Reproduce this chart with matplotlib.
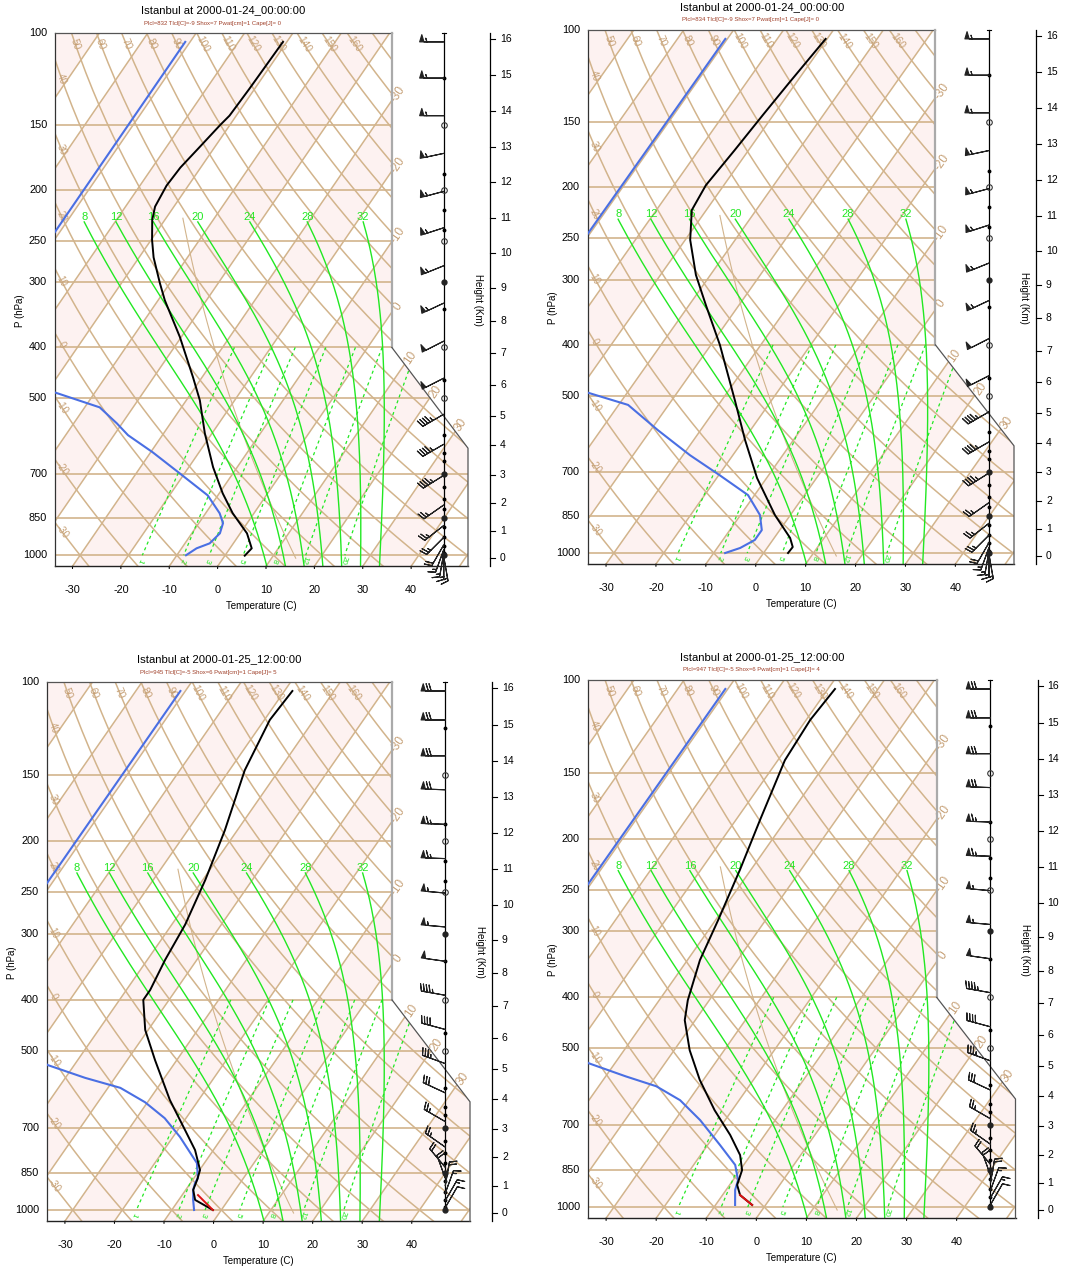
import numpy as np
import matplotlib.pyplot as plt
from matplotlib.patches import Polygon
from matplotlib.transforms import offset_copy

plt.rcParams['font.family'] = ['Liberation Sans', 'DejaVu Sans']

TAN = '#D2B48C'
TANTXT = '#C6A076'
PINK = '#FDF2F1'
GREEN = '#22E822'
BLUE = '#4A6FE3'
BROWN = '#A0402A'

# ---------------- data ----------------
titles = ["Istanbul at 2000-01-24_00:00:00", "Istanbul at 2000-01-24_00:00:00",
          "Istanbul at 2000-01-25_12:00:00", "Istanbul at 2000-01-25_12:00:00"]
subtitles = ["Plcl=832 Tlcl[C]=-9 Shox=7 Pwat[cm]=1 Cape[J]= 0",
             "Plcl=834 Tlcl[C]=-9 Shox=7 Pwat[cm]=1 Cape[J]= 0",
             "Plcl=945 Tlcl[C]=-5 Shox=6 Pwat[cm]=1 Cape[J]= 5",
             "Plcl=947 Tlcl[C]=-5 Shox=6 Pwat[cm]=1 Cape[J]= 4"]

# temperature (hPa, C)
t1_p = [104, 128, 144, 150, 165, 181, 196, 215, 228, 249, 269, 301, 325, 382, 456, 505, 584, 678, 761, 831, 908, 970, 1002]
t1_t = [-60.8, -61.1, -61.4, -62.0, -63.1, -64.2, -64.5, -63.9, -62.6, -59.8, -57.0, -52.1, -48.6, -40.3, -31.9, -27.2, -21.5, -15.0, -9.3, -4.4, 1.4, 4.5, 4.1]
t2_p = [104, 126, 145, 170, 198, 221, 252, 294, 336, 400, 510, 608, 719, 846, 936, 974, 1000]
t2_t = [-60.3, -61.4, -62.1, -62.8, -63.6, -62.9, -59.0, -52.9, -46.6, -38.2, -27.4, -19.7, -11.9, -3.1, 3.2, 5.0, 4.9]
t3_p = [104, 118, 147, 191, 237, 288, 336, 383, 400, 456, 520, 619, 706, 770, 840, 877, 916, 957, 1000]
t3_t = [-58.4, -58.9, -56.9, -52.5, -49.5, -47.3, -46.4, -45.2, -45.2, -40.6, -34.4, -25.8, -18.5, -13.7, -9.9, -9.1, -8.5, -6.7, -1.7]
t4_p = [104, 119, 142, 184, 229, 285, 340, 405, 442, 504, 574, 655, 730, 797, 851, 908, 949, 991]
t4_t = [-58.6, -59.2, -58.6, -55.2, -52.2, -49.5, -47.5, -44.3, -42.1, -36.9, -30.7, -23.5, -16.9, -12.1, -9.6, -8.5, -6.5, -2.7]

# dewpoint (hPa, C)
d1_p = [104, 244, 330, 420, 483, 521, 559, 589, 635, 697, 768, 831, 868, 908, 949, 970, 1000]
d1_t = [-81, -81, -80, -70, -60, -46.9, -41.1, -37.1, -29.6, -21.0, -12.1, -7.1, -5.0, -4.2, -4.9, -6.9, -8.1]
d2_p = [104, 244, 330, 420, 492, 521, 582, 650, 710, 775, 846, 904, 944, 978, 1000]
d2_t = [-80.4, -80.4, -80, -70, -58.5, -48.1, -38.6, -28.6, -19.8, -11.3, -6.1, -3.6, -3.6, -5.4, -7.7]
d3_p = [104, 300, 420, 531, 562, 587, 625, 670, 727, 815, 870, 888, 916, 957, 1000]
d3_t = [-81, -81, -72, -55.5, -46.0, -37.5, -30.5, -24.3, -18.6, -11.5, -9.2, -9.1, -8.5, -7.1, -5.5]
d4_p = [104, 300, 420, 533, 565, 590, 627, 684, 763, 832, 889, 928, 991]
d4_t = [-80.5, -80.5, -72, -55.4, -46.0, -38.5, -31.8, -25.0, -17.5, -11.7, -9.0, -8.2, -6.1]

# lifted parcel near the ground (bottom panels)
r3_p = [937, 1000]
r3_t = [-6.8, -1.7]
r4_p = [949, 991]
r4_t = [-6.5, -2.7]

# winds (hPa, direction deg, speed kt)
w1_p = [104, 122, 144, 170, 201, 236, 279, 329, 389, 458, 537, 613, 703, 801, 877, 924, 955, 975, 990, 1000, 1008]
w1_d = [270, 270, 270, 258, 255, 252, 248, 245, 243, 243, 240, 240, 238, 235, 232, 225, 210, 200, 190, 180, 170]
w1_s = [55, 55, 55, 55, 55, 55, 55, 55, 50, 50, 45, 45, 45, 25, 25, 25, 20, 15, 15, 15, 15]
w2_p = [104, 122, 144, 170, 201, 236, 279, 329, 389, 458, 537, 613, 703, 801, 877, 924, 955, 975, 990, 1000, 1008]
w2_d = [270, 270, 270, 258, 255, 252, 248, 245, 243, 243, 240, 240, 238, 235, 232, 225, 210, 200, 190, 180, 170]
w2_s = [55, 55, 55, 55, 55, 55, 55, 55, 50, 50, 45, 45, 45, 25, 25, 25, 20, 15, 15, 15, 15]
w3_p = [104, 118, 138, 160, 186, 216, 251, 291, 338, 392, 455, 528, 600, 680, 760, 830, 870, 900, 930, 960, 990]
w3_d = [270, 270, 270, 272, 272, 272, 275, 275, 278, 280, 285, 290, 295, 300, 305, 320, 340, 10, 20, 30, 30]
w3_s = [70, 70, 70, 70, 65, 65, 55, 55, 50, 45, 40, 35, 30, 25, 25, 20, 20, 20, 15, 15, 10]
w4_p = [104, 118, 138, 160, 186, 216, 251, 291, 338, 392, 455, 528, 600, 680, 760, 830, 870, 900, 930, 960, 990]
w4_d = [270, 270, 270, 272, 272, 272, 275, 275, 278, 280, 285, 290, 295, 300, 305, 320, 340, 10, 20, 30, 30]
w4_s = [70, 70, 70, 70, 65, 65, 55, 55, 50, 45, 40, 35, 30, 25, 25, 20, 20, 20, 15, 15, 10]

# small dots on the wind column
dots_p = [122, 186, 218, 238, 338, 462, 588, 637, 660, 740, 780, 815, 883, 924, 958, 989]
circ_p = [150, 200, 250, 400, 500]
bold_p = [300, 700, 850, 1000]

# background values
isobars = [1000, 850, 700, 500, 400, 300, 250, 200, 150]
isotherms = list(range(-110, 60, 10))
dry_theta = list(range(-30, 180, 10))
moist_tw = [8, 12, 16, 20, 24, 28, 32]
mix_w = [1, 2, 3, 5, 8, 12, 20]
temp_ticks = [-30, -20, -10, 0, 10, 20, 30, 40]
km_ticks = list(range(0, 17))

# panel rectangles in pixels: left, right, top, bottom
rects = [(55, 468, 33, 566.3), (588, 1014, 30, 564.1),
         (47, 470, 682, 1221.2), (588, 1015.5, 680, 1218.2)]

W, H = 1071, 1272


# ---------------- skew-T coordinates (NCL style) ----------------
def sy(p):
    return 132.182 - 44.061 * np.log10(np.asarray(p, float))


def sx(t, p):
    return 0.54 * np.asarray(t, float) + 0.90692 * sy(p)


YB, YT = float(sy(1050)), float(sy(100))
XL, XR = -19.0, 27.1


def x_right(y):
    return np.where(y >= 17.53, 18.6, np.where(y >= 9.03, 36.13 - y, 27.1))


def pseudo(tw, p):
    Rd, cp, Lv, eps = 287.04, 1005.7, 2.501e6, 0.622

    def f(T, pp):
        tc = T - 273.15
        es = 6.112 * np.exp(17.67 * tc / (tc + 243.5))
        rs = eps * es / (pp - es)
        return (Rd * T + Lv * rs) / (pp * (cp + Lv * Lv * rs * eps / (Rd * T * T)))
    T = np.empty(len(p))
    T[0] = tw + 273.15
    for i in range(1, len(p)):
        h = p[i] - p[i - 1]
        k1 = f(T[i - 1], p[i - 1])
        k2 = f(T[i - 1] + h / 2 * k1, p[i - 1] + h / 2)
        k3 = f(T[i - 1] + h / 2 * k2, p[i - 1] + h / 2)
        k4 = f(T[i - 1] + h * k3, p[i])
        T[i] = T[i - 1] + h / 6 * (k1 + 2 * k2 + 2 * k3 + k4)
    return T - 273.15


def std_p(z):
    if z <= 11:
        return 1013.25 * (1 - 0.0065 * z * 1000 / 288.15) ** 5.25588
    return 226.32 * np.exp(-(z - 11) * 1000 / 6341.62)


fig = plt.figure(figsize=(W / 100, H / 100), dpi=100)


def txt(ax, x, y, s, dx=0, dy=0, **kw):
    tr = offset_copy(ax.transData, fig=fig, x=dx, y=dy, units='dots')
    ax.text(x, y, s, transform=tr, clip_on=False, **kw)


def angle(ax, x0, y0, x1, y1):
    a = ax.transData.transform([(x0, y0), (x1, y1)])
    return np.degrees(np.arctan2(a[1, 1] - a[0, 1], a[1, 0] - a[0, 0]))


def draw_panel(ax, rect, title, sub, tp, tt, dp, dt, wp, wd, ws, rp=None, rt=None):
    l, r, top, bot = rect
    ppx = (r - l) / (XR - XL)
    ax.set_xlim(XL, XR)
    ax.set_ylim(YB, YT)
    ax.axis('off')

    verts = [(XL, YB), (XR, YB), (XR, 9.03), (18.6, 17.53), (18.6, YT), (XL, YT)]
    clip = Polygon(verts, closed=True, transform=ax.transData, fc='none', ec='none')
    ax.add_patch(clip)

    def clipped(art):
        art.set_clip_path(clip)

    # alternating isotherm bands
    for t in range(-110, 50, 20):
        band = Polygon([(sx(t, 1050), YB), (sx(t + 10, 1050), YB),
                        (sx(t + 10, 100), YT), (sx(t, 100), YT)],
                       closed=True, fc=PINK, ec='none', zorder=1)
        ax.add_patch(band)
        clipped(band)

    # isobars
    for p in isobars:
        y = float(sy(p))
        ax.plot([XL, float(x_right(y))], [y, y], color=TAN, lw=1.2, zorder=2)
    # isotherms
    for t in isotherms:
        ln, = ax.plot([sx(t, 1050), sx(t, 100)], [YB, YT], color=TAN, lw=1.1, zorder=2)
        clipped(ln)
    # dry adiabats
    pp = np.linspace(100, 1050, 200)
    for th in dry_theta:
        tk = (th + 273.15) * (pp / 1000.0) ** 0.2857 - 273.15
        ln, = ax.plot(sx(tk, pp), sy(pp), color=TAN, lw=1.1, zorder=2)
        clipped(ln)
        xs = sx(tk, pp)
        if 50 <= th <= 160:
            yl = YT - 11 / 11.85
            pl = 10 ** ((132.182 - yl) / 44.061)
            tl = (th + 273.15) * (pl / 1000.0) ** 0.2857 - 273.15
            xl = float(sx(tl, pl))
            p2 = pl * 1.05
            t2 = (th + 273.15) * (p2 / 1000.0) ** 0.2857 - 273.15
            rot = angle(ax, xl, yl, float(sx(t2, p2)), float(sy(p2)))
            txt(ax, xl, yl, str(th), color=TANTXT, fontsize=7.3, rotation=rot,
                ha='center', va='center', zorder=3)
        elif th <= 40:
            xl = XL + 0.75
            pl = float(np.interp(xl, xs, pp))
            p2 = pl * 1.05
            t2 = (th + 273.15) * (p2 / 1000.0) ** 0.2857 - 273.15
            rot = angle(ax, xl, float(sy(pl)), float(sx(t2, p2)), float(sy(p2)))
            txt(ax, xl, float(sy(pl)), str(th), color=TANTXT, fontsize=7.0, rotation=rot,
                ha='center', va='center', zorder=3)

    # isotherm labels on the right edge
    yy = np.linspace(YB, YT, 600)
    for t in [-30, -20, -10, 0, 10, 20, 30]:
        f = 0.54 * t + 0.90692 * yy - x_right(yy)
        yl = float(np.interp(0.0, f, yy))
        xl = float(x_right(np.array(yl)))
        rot = angle(ax, sx(t, 1050), YB, sx(t, 100), YT)
        txt(ax, xl, yl, str(t), dx=6, dy=6, color=TANTXT, fontsize=8.5, rotation=rot,
            ha='center', va='center', zorder=3)

    # standard atmosphere
    ps = np.linspace(226.3, 1013.25, 60)
    ts = 288.15 * (ps / 1013.25) ** 0.190263 - 273.15
    ln, = ax.plot(sx(ts, ps), sy(ps), color=TAN, lw=0.8, zorder=2)
    clipped(ln)

    # moist adiabats
    pu = np.linspace(1000, 230, 160)
    pdn = np.linspace(1000, 1050, 12)
    for tw in moist_tw:
        tu = pseudo(tw, pu)
        td = pseudo(tw, pdn)
        p_all = np.concatenate([pdn[::-1], pu[1:]])
        t_all = np.concatenate([td[::-1], tu[1:]])
        ln, = ax.plot(sx(t_all, p_all), sy(p_all), color=GREEN, lw=1.0, zorder=3)
        clipped(ln)
        txt(ax, float(sx(tu[-1], 230)), float(sy(230)), str(tw), dy=5, color=GREEN,
            fontsize=8, ha='center', va='center', zorder=3)

    # mixing ratio lines
    pm = np.linspace(400, 1000, 40)
    for w in mix_w:
        e = w * pm / (622.0 + w)
        a = np.log(e / 6.112)
        tdm = 243.5 * a / (17.67 - a)
        ln, = ax.plot(sx(tdm, pm), sy(pm), color=GREEN, lw=0.9, ls=(0, (2.5, 2.5)), zorder=3)
        clipped(ln)
        pl = 1022.0
        e = w * pl / (622.0 + w)
        a = np.log(e / 6.112)
        tl = 243.5 * a / (17.67 - a)
        rot = angle(ax, float(sx(tdm[0], pm[0])), float(sy(pm[0])),
                    float(sx(tdm[-1], pm[-1])), float(sy(pm[-1])))
        txt(ax, float(sx(tl, pl)), float(sy(pl)), str(w), color=GREEN, fontsize=5.8,
            rotation=rot, ha='center', va='center', zorder=3)

    # outline
    ax.plot([XL, XR], [YB, YB], color='#222222', lw=1.0, zorder=4, clip_on=False)
    ax.plot([XL, XL], [YB, YT], color='#333333', lw=0.9, zorder=4, clip_on=False)
    ax.plot([XL, 18.6], [YT, YT], color='#555555', lw=0.9, zorder=4, clip_on=False)
    ax.plot([18.6, 18.6], [YT, 17.53], color='#AAAAAA', lw=1.6, zorder=4, clip_on=False)
    ax.plot([18.6, XR, XR], [17.53, 9.03, YB], color='#555555', lw=0.9, zorder=4, clip_on=False)

    # axes labels
    for p in [100, 150, 200, 250, 300, 400, 500, 700, 850, 1000]:
        txt(ax, XL, float(sy(p)), str(p), dx=-8, color='black', fontsize=7.8,
            ha='right', va='center')
    txt(ax, XL, float(sy(340)), 'P (hPa)', dx=-35, color='black', fontsize=7,
        rotation=90, ha='center', va='center')
    for t in temp_ticks:
        x = float(sx(t, 1050))
        ax.annotate('', xy=(x, YB), xytext=(0, -5), textcoords='offset pixels',
                    arrowprops=dict(arrowstyle='-', lw=0.8, color='black'), annotation_clip=False)
        txt(ax, x, YB, str(t), dy=-24, color='black', fontsize=7.8, ha='center', va='center')
    txt(ax, (XL + XR) / 2, YB, 'Temperature (C)', dy=-40, color='black', fontsize=7,
        ha='center', va='center')
    txt(ax, (XL + 18.6) / 2, YT, title, dy=23, color='black', fontsize=8.1,
        ha='center', va='center')
    txt(ax, (XL + 18.6) / 2 - 1.2, YT, sub, dy=10, color=BROWN, fontsize=4.3,
        ha='center', va='center')

    # height axis
    xh = XR + 22 / ppx
    ax.plot([xh, xh], [YB, YT], color='black', lw=0.9, clip_on=False)
    for z in km_ticks:
        y = float(sy(std_p(z)))
        ax.plot([xh, xh + 5 / ppx], [y, y], color='black', lw=0.8, clip_on=False)
        txt(ax, xh, y, str(z), dx=10, color='black', fontsize=7.5, ha='left', va='center')
    txt(ax, xh, float(sy(325)), 'Height (Km)', dx=-12, color='black', fontsize=7,
        rotation=-90, ha='center', va='center')

    # profiles
    ax.plot(sx(dt, dp), sy(dp), color=BLUE, lw=1.5, zorder=5, clip_path=clip)
    ax.plot(sx(tt, tp), sy(tp), color='black', lw=1.4, zorder=5)
    if rp is not None:
        ax.plot(sx(rt, rp), sy(rp), color='#DD1111', lw=1.4, zorder=6)

    # wind column and barbs
    xw = 24.4
    ax.plot([xw, xw], [float(sy(1000)), YT], color='black', lw=0.9, zorder=6, clip_on=False)
    ax.plot([xw - 2 / ppx, xw + 2 / ppx], [YT, YT], color='black', lw=0.8, zorder=6, clip_on=False)
    ax.plot(np.full(len(dots_p), xw), sy(dots_p), 'o', ms=1.8, color='black', zorder=6, clip_on=False)
    ax.plot(np.full(len(circ_p), xw), sy(circ_p), 'o', ms=4, mfc='none', mec='#333333',
            mew=0.8, zorder=6, clip_on=False)
    ax.plot(np.full(len(bold_p), xw), sy(bold_p), 'o', ms=3.5, color='#222222', zorder=6, clip_on=False)
    wd = np.radians(np.asarray(wd, float))
    ws = np.asarray(ws, float)
    u = -ws * np.sin(wd)
    v = -ws * np.cos(wd)
    b = ax.barbs(np.full(len(wp), xw), sy(wp), u, v, length=5.9, pivot='tip',
                 linewidth=0.8, color='#222222', zorder=6,
                 sizes=dict(spacing=0.12, height=0.3, width=0.18))
    b.set_clip_on(False)


temps = [(t1_p, t1_t), (t2_p, t2_t), (t3_p, t3_t), (t4_p, t4_t)]
dews = [(d1_p, d1_t), (d2_p, d2_t), (d3_p, d3_t), (d4_p, d4_t)]
winds = [(w1_p, w1_d, w1_s), (w2_p, w2_d, w2_s), (w3_p, w3_d, w3_s), (w4_p, w4_d, w4_s)]
parcels = [(None, None), (None, None), (r3_p, r3_t), (r4_p, r4_t)]

for i, rc in enumerate(rects):
    l, r, top, bot = rc
    ax = fig.add_axes([l / W, 1 - bot / H, (r - l) / W, (bot - top) / H])
    draw_panel(ax, rc, titles[i], subtitles[i], *temps[i], *dews[i], *winds[i], *parcels[i])

fig.savefig('out.png', dpi=100)
